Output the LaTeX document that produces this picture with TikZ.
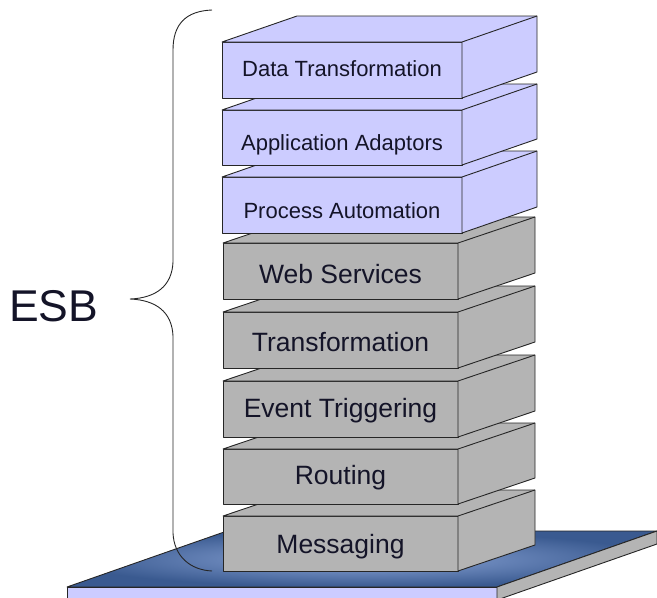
\documentclass[tikz,border=0pt]{standalone}
\usepackage{fontspec}
\setmainfont{Liberation Sans}

\definecolor{layerblue}{HTML}{CCCCFF}
\definecolor{layergray}{HTML}{B4B4B4}
\definecolor{edgeline}{HTML}{262626}
\definecolor{baselight}{HTML}{8EA8DA}
\definecolor{basedark}{HTML}{3A5A90}
\definecolor{labelink}{HTML}{141428}

\tikzset{
  faceline/.style={draw=edgeline, line width=0.9pt, line join=round},
  upperlayer/.style={faceline, fill=layerblue},
  lowerlayer/.style={faceline, fill=layergray},
  upperlabel/.style={anchor=base, inner sep=0pt, text=labelink, font=\fontsize{22}{24}\selectfont},
  lowerlabel/.style={anchor=base, inner sep=0pt, text=labelink, font=\fontsize{26.5}{28}\selectfont},
  bracestroke/.style={draw=edgeline, line width=0.9pt},
}

% one slab of the stack: name, kind (upper/lower), left, top, right, bottom, depth, label, label baseline
\newcommand\stacklayer[9]{%
  \node[#2layer, inner sep=0pt, outer sep=0pt,
        minimum width={#5-#3}, minimum height={#6-#4}]
        (#1) at ({(#3+#5)/2},{(#4+#6)/2}) {};
  \path[#2layer] (#1.north west) -- ++(#7,-26) -- ++({#5-#3},0) -- ++(0,{#6-#4})
        -- (#1.south east) -- (#1.north east) -- cycle;
  \draw[faceline] (#1.north east) -- ++(#7,-26);
  \node[#2label] (#1-text) at ({(#3+#5)/2},#9) {#8};
}

\begin{document}
\begin{tikzpicture}[x=1pt, y=-1pt]
\useasboundingbox (0,0) rectangle (657,598);

% base platform
\coordinate (pfl) at (67,587);
\coordinate (pfr) at (497,587);
\coordinate (pbr) at (657,531);
\coordinate (pbl) at (227,531);
\shade[inner color=baselight, outer color=basedark] (pfl) -- (pfr) -- (pbr) -- (pbl) -- cycle;
\draw[faceline] (pfl) -- (pfr) -- (pbr) -- (pbl) -- cycle;
\path[faceline, fill=layerblue] (pfl) rectangle (497,604);
\path[faceline, fill=layergray] (pfr) -- (pbr) -- (657,544) -- (497,600) -- cycle;

% brace and label
\draw[bracestroke] (212,10) .. controls (186,11) and (173,24) .. (173,50)
  -- (173,262) .. controls (172,286) and (156,298) .. (130,299)
  .. controls (156,300) and (172,312) .. (173,336)
  -- (173,533) .. controls (174,556) and (190,570) .. (212,571);
\node[anchor=base west, inner sep=0pt, text=labelink, font=\fontsize{44.5}{46}\selectfont] (esb) at (9,321) {ESB};

% stack, drawn from the bottom up
\stacklayer{messaging}{lower}{223}{516}{458}{571}{77}{Messaging}{553}
\stacklayer{routing}{lower}{223}{449}{458}{504}{77}{Routing}{484}
\stacklayer{events}{lower}{223}{381}{458}{437}{77}{Event Triggering}{417}
\stacklayer{transform}{lower}{223}{312}{458}{368}{77}{Transformation}{351}
\stacklayer{websvc}{lower}{223}{243}{458}{299}{77}{Web Services}{283}
\stacklayer{process}{upper}{222}{177}{462}{233}{75}{Process Automation}{218}
\stacklayer{adaptors}{upper}{222}{110}{462}{165}{75}{Application Adaptors}{150}
\stacklayer{datatrans}{upper}{222}{42}{462}{98}{75}{Data Transformation}{76}
\end{tikzpicture}
\end{document}
